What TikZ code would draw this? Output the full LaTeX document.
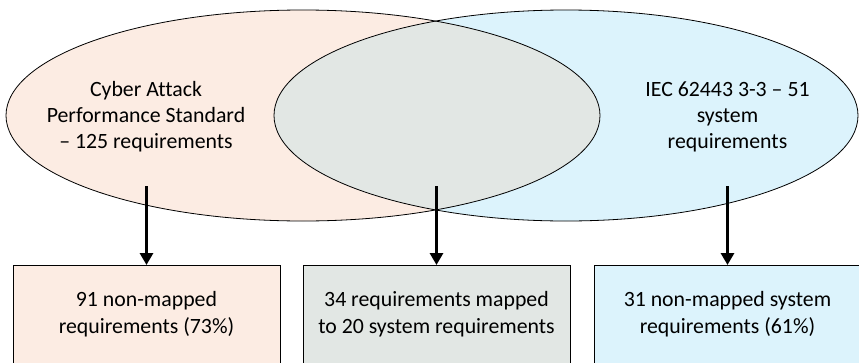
\documentclass[tikz,border=0pt]{standalone}
\usepackage{fontspec}
\setmainfont[Ligatures=NoCommon]{Carlito}
\usetikzlibrary{arrows.meta,shapes.geometric}

\definecolor{peach}{HTML}{FCECE3}
\definecolor{sky}{HTML}{DCF3FC}
\definecolor{overlap}{HTML}{E2E7E4}

\tikzset{
  setlabel/.style={align=center, font=\fontsize{21.8}{26}\selectfont, inner sep=0pt},
  resultbox/.style={draw=black, line width=0.8pt, minimum width=267pt, minimum height=115pt,
    anchor=north, inner sep=0pt},
  boxtext/.style={align=center, font=\fontsize{21.8}{26.5}\selectfont, inner sep=0pt},
  flow/.style={line width=3.5pt, -{Triangle[width=13pt,length=12pt]}},
  outline/.style={draw=black, line width=0.8pt}
}

\begin{document}
\begin{tikzpicture}[x=1pt, y=-1pt]
  \useasboundingbox (0,0) rectangle (859,362);

  % the two requirement sets
  \fill[peach] (303,115.5) ellipse [x radius=297, y radius=105.5];
  \fill[sky]   (566,115.5) ellipse [x radius=292, y radius=105.5];
  \begin{scope}
    \clip (303,115.5) ellipse [x radius=297, y radius=105.5];
    \fill[overlap] (566,115.5) ellipse [x radius=292, y radius=105.5];
  \end{scope}
  \draw[outline] (303,115.5) ellipse [x radius=297, y radius=105.5];
  \draw[outline] (566,115.5) ellipse [x radius=292, y radius=105.5];

  \node[setlabel] (capsLabel) at (146,116.5) {Cyber Attack\\Performance Standard\\– 125 requirements};
  \node[setlabel] (iecLabel) at (727.5,116.5) {IEC 62443 3-3 – 51\\system\\requirements};

  % arrow start points inside the sets
  \coordinate (fromCaps) at (146.5,186);
  \coordinate (fromBoth) at (436.5,186);
  \coordinate (fromIec)  at (727.5,186);

  % result boxes
  \node[resultbox, fill=peach]   (boxCaps) at (146.5,265) {};
  \node[resultbox, fill=overlap] (boxBoth) at (436.5,265) {};
  \node[resultbox, fill=sky]     (boxIec)  at (727.5,265) {};

  \node[boxtext] (txtCaps) at (146.5,314) {91 non-mapped\\requirements (73\%)};
  \node[boxtext] (txtBoth) at (436.5,314) {34 requirements mapped\\to 20 system requirements};
  \node[boxtext] (txtIec)  at (727.5,314) {31 non-mapped system\\requirements (61\%)};

  \draw[flow] (fromCaps) -- (boxCaps.north);
  \draw[flow] (fromBoth) -- (boxBoth.north);
  \draw[flow] (fromIec)  -- (boxIec.north);
\end{tikzpicture}
\end{document}
